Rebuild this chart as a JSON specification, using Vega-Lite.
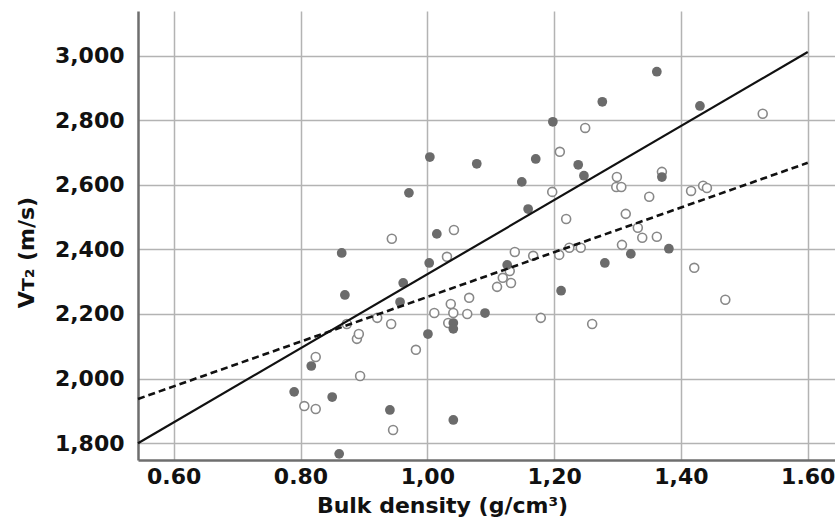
{
  "$schema": "https://vega.github.io/schema/vega-lite/v6.json",
  "width": 697,
  "height": 449,
  "autosize": {"type": "none"},
  "padding": {"left": 138, "top": 11, "right": 0, "bottom": 59},
  "background": "white",
  "config": {
    "view": {"stroke": null},
    "font": "DejaVu Sans",
    "axis": {
      "labelFont": "DejaVu Sans",
      "labelFontWeight": "bold",
      "labelFontSize": 22,
      "labelColor": "#111111",
      "titleFont": "DejaVu Sans",
      "titleFontWeight": "bold",
      "titleFontSize": 22,
      "titleColor": "#111111",
      "ticks": false,
      "grid": true,
      "gridColor": "#b3b3b3",
      "gridWidth": 1.5,
      "domainColor": "#6e6e6e",
      "domainWidth": 2.5
    }
  },
  "datasets": {
    "pts": [
      {"x": 0.861, "y": 1767, "g": "filled"},
      {"x": 0.790, "y": 1959, "g": "filled"},
      {"x": 0.817, "y": 2039, "g": "filled"},
      {"x": 0.850, "y": 1943, "g": "filled"},
      {"x": 0.941, "y": 1903, "g": "filled"},
      {"x": 1.041, "y": 1872, "g": "filled"},
      {"x": 0.865, "y": 2389, "g": "filled"},
      {"x": 0.870, "y": 2259, "g": "filled"},
      {"x": 0.962, "y": 2296, "g": "filled"},
      {"x": 0.957, "y": 2237, "g": "filled"},
      {"x": 1.003, "y": 2358, "g": "filled"},
      {"x": 1.001, "y": 2138, "g": "filled"},
      {"x": 1.041, "y": 2172, "g": "filled"},
      {"x": 1.041, "y": 2154, "g": "filled"},
      {"x": 1.004, "y": 2686, "g": "filled"},
      {"x": 0.971, "y": 2575, "g": "filled"},
      {"x": 1.078, "y": 2665, "g": "filled"},
      {"x": 1.015, "y": 2448, "g": "filled"},
      {"x": 1.126, "y": 2352, "g": "filled"},
      {"x": 1.198, "y": 2795, "g": "filled"},
      {"x": 1.171, "y": 2680, "g": "filled"},
      {"x": 1.149, "y": 2609, "g": "filled"},
      {"x": 1.238, "y": 2662, "g": "filled"},
      {"x": 1.247, "y": 2628, "g": "filled"},
      {"x": 1.159, "y": 2525, "g": "filled"},
      {"x": 1.091, "y": 2203, "g": "filled"},
      {"x": 1.211, "y": 2272, "g": "filled"},
      {"x": 1.362, "y": 2950, "g": "filled"},
      {"x": 1.276, "y": 2857, "g": "filled"},
      {"x": 1.430, "y": 2844, "g": "filled"},
      {"x": 1.370, "y": 2624, "g": "filled"},
      {"x": 1.280, "y": 2358, "g": "filled"},
      {"x": 1.321, "y": 2386, "g": "filled"},
      {"x": 1.381, "y": 2402, "g": "filled"},
      {"x": 0.806, "y": 1915, "g": "open"},
      {"x": 0.824, "y": 1906, "g": "open"},
      {"x": 0.824, "y": 2067, "g": "open"},
      {"x": 0.894, "y": 2008, "g": "open"},
      {"x": 0.889, "y": 2123, "g": "open"},
      {"x": 0.892, "y": 2138, "g": "open"},
      {"x": 0.873, "y": 2169, "g": "open"},
      {"x": 0.921, "y": 2188, "g": "open"},
      {"x": 0.943, "y": 2169, "g": "open"},
      {"x": 0.982, "y": 2089, "g": "open"},
      {"x": 0.946, "y": 1841, "g": "open"},
      {"x": 0.944, "y": 2433, "g": "open"},
      {"x": 1.031, "y": 2377, "g": "open"},
      {"x": 1.011, "y": 2203, "g": "open"},
      {"x": 1.037, "y": 2231, "g": "open"},
      {"x": 1.041, "y": 2203, "g": "open"},
      {"x": 1.063, "y": 2200, "g": "open"},
      {"x": 1.066, "y": 2250, "g": "open"},
      {"x": 1.033, "y": 2172, "g": "open"},
      {"x": 1.042, "y": 2460, "g": "open"},
      {"x": 1.130, "y": 2333, "g": "open"},
      {"x": 1.119, "y": 2312, "g": "open"},
      {"x": 1.132, "y": 2296, "g": "open"},
      {"x": 1.110, "y": 2284, "g": "open"},
      {"x": 1.179, "y": 2188, "g": "open"},
      {"x": 1.260, "y": 2169, "g": "open"},
      {"x": 1.249, "y": 2776, "g": "open"},
      {"x": 1.209, "y": 2702, "g": "open"},
      {"x": 1.197, "y": 2578, "g": "open"},
      {"x": 1.219, "y": 2494, "g": "open"},
      {"x": 1.138, "y": 2392, "g": "open"},
      {"x": 1.167, "y": 2380, "g": "open"},
      {"x": 1.208, "y": 2383, "g": "open"},
      {"x": 1.224, "y": 2405, "g": "open"},
      {"x": 1.242, "y": 2405, "g": "open"},
      {"x": 1.529, "y": 2820, "g": "open"},
      {"x": 1.370, "y": 2640, "g": "open"},
      {"x": 1.299, "y": 2624, "g": "open"},
      {"x": 1.298, "y": 2593, "g": "open"},
      {"x": 1.306, "y": 2593, "g": "open"},
      {"x": 1.350, "y": 2563, "g": "open"},
      {"x": 1.313, "y": 2510, "g": "open"},
      {"x": 1.332, "y": 2467, "g": "open"},
      {"x": 1.416, "y": 2581, "g": "open"},
      {"x": 1.435, "y": 2597, "g": "open"},
      {"x": 1.441, "y": 2590, "g": "open"},
      {"x": 1.339, "y": 2436, "g": "open"},
      {"x": 1.362, "y": 2439, "g": "open"},
      {"x": 1.307, "y": 2414, "g": "open"},
      {"x": 1.421, "y": 2343, "g": "open"},
      {"x": 1.470, "y": 2244, "g": "open"}
    ],
    "lines": [
      {"line": "solid", "x": 0.5437, "y": 1800},
      {"line": "solid", "x": 1.60, "y": 3011},
      {"line": "dashed", "x": 0.5437, "y": 1937},
      {"line": "dashed", "x": 1.60, "y": 2668}
    ]
  },
  "encoding": {
    "x": {
      "field": "x",
      "type": "quantitative",
      "scale": {"domain": [0.5437, 1.643], "nice": false, "zero": false},
      "axis": {
        "values": [0.6, 0.8, 1.0, 1.2, 1.4, 1.6],
        "labelExpr": "(datum.value < 0.9 || datum.value > 1.5) ? format(datum.value, '.2f') : replace(format(datum.value, '.2f'), '.', ',')",
        "labelPadding": 6,
        "title": "Bulk density (g/cm³)",
        "titleX": 304,
        "titleY": 35,
        "titleAnchor": null,
        "titleAlign": "center",
        "titleBaseline": "top"
      }
    },
    "y": {
      "field": "y",
      "type": "quantitative",
      "scale": {"domain": [1748, 3138], "nice": false, "zero": false},
      "axis": {
        "values": [1800, 2000, 2200, 2400, 2600, 2800, 3000],
        "labelExpr": "format(datum.value, ',.0f')",
        "labelPadding": 14,
        "title": "Vᴛ₂ (m/s)",
        "titleX": -112,
        "titleY": 241,
        "titleAngle": -90,
        "titleAlign": "center",
        "titleBaseline": "middle"
      }
    }
  },
  "layer": [
    {
      "data": {"name": "pts"},
      "transform": [{"filter": "datum.g == 'open'"}],
      "mark": {"type": "point", "shape": "circle", "filled": false, "size": 80, "stroke": "#888888", "strokeWidth": 1.6, "fill": "white", "fillOpacity": 1, "opacity": 1}
    },
    {
      "data": {"name": "pts"},
      "transform": [{"filter": "datum.g == 'filled'"}],
      "mark": {"type": "circle", "size": 95, "color": "#6b6b6b", "opacity": 1}
    },
    {
      "data": {"name": "lines"},
      "transform": [{"filter": "datum.line == 'solid'"}],
      "mark": {"type": "line", "color": "#111111", "strokeWidth": 2.2},
      "encoding": {}
    },
    {
      "data": {"name": "lines"},
      "transform": [{"filter": "datum.line == 'dashed'"}],
      "mark": {"type": "line", "color": "#111111", "strokeWidth": 2.6, "strokeDash": [7, 4]},
      "encoding": {}
    }
  ]
}
